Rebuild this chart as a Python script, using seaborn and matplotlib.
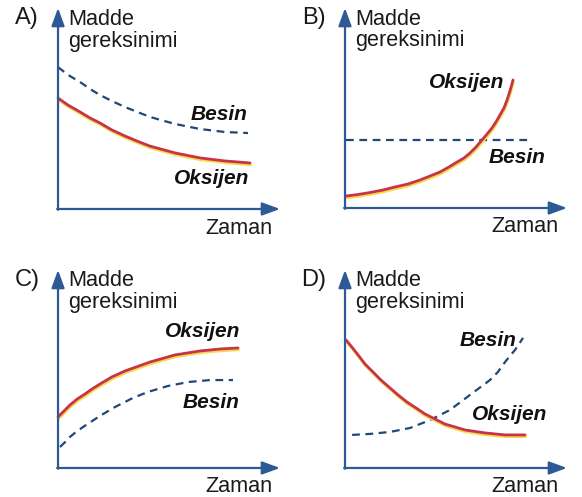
import matplotlib
matplotlib.use("Agg")
import matplotlib.pyplot as plt
import matplotlib.patheffects as pe
import seaborn as sns

sns.set_theme(style="white")
plt.rcParams['font.family'] = ['Liberation Sans', 'DejaVu Sans']

# curve values (time 0-100, demand 0-100 along each arrow)
a_oks_x = [0, 4.5, 9.9, 14.4, 18.9, 24.3, 30.2, 35.6, 41.4, 52.7, 64.0, 75.2, 86.5]
a_oks_y = [55.2, 51.7, 48.3, 45.3, 42.8, 39.3, 36.3, 33.8, 31.3, 27.9, 25.4, 23.9, 22.9]
a_bes_x = [0, 4.5, 9.9, 14.4, 18.9, 24.3, 30.2, 41.4, 52.7, 64.0, 75.2, 85.6]
a_bes_y = [70.6, 66.7, 63.2, 59.7, 56.7, 53.7, 50.7, 45.8, 42.3, 39.8, 38.3, 37.8]

b_oks_x = [0.5, 5.9, 11.3, 17.1, 22.5, 28.4, 33.8, 38.3, 42.8, 46.8, 50.5, 53.6, 56.3,
           59.0, 61.7, 64.0, 66.2, 68.0, 69.8, 71.6, 73.0, 74.3, 75.7]
b_oks_y = [6, 6.75, 7.75, 9, 10.5, 12, 14, 16, 18, 20.5, 23, 25, 27.5,
           30.5, 34, 37, 40, 43, 46.5, 50, 54, 58.5, 64]
b_bes_x = [0.5, 82.4]
b_bes_y = [34, 34]

c_oks_x = [0, 2.7, 5.4, 8.6, 12.2, 15.3, 18.9, 24.3, 30.2, 41.4, 52.7, 64.0, 73.0, 81.1]
c_oks_y = [25.8, 28.8, 31.8, 34.8, 37.4, 39.9, 42.4, 46.0, 49.0, 53.5, 57.1, 59.1, 60.1, 60.6]
c_bes_x = [0.9, 3.2, 5.4, 8.1, 11.3, 18.9, 25.7, 33.8, 40.5, 49.5, 58.6, 68.5, 78.8]
c_bes_y = [10.6, 13.1, 15.7, 18.2, 20.7, 26.3, 30.8, 35.4, 38.4, 41.4, 43.4, 44.4, 44.4]

d_oks_x = [0.5, 3.2, 5.9, 9.0, 12.6, 16.2, 20.3, 23.9, 27.9, 32.0, 36.0, 45.0, 54.1,
           63.1, 72.1, 81.1]
d_oks_y = [64.6, 60.9, 57.1, 52.5, 48.5, 44.4, 40.4, 36.9, 33.3, 30.3, 27.3, 22.2, 19.2,
           17.7, 16.7, 16.7]
d_bes_x = [3.2, 11.3, 20.3, 29.3, 38.3, 47.3, 56.3, 65.3, 68.9, 72.1, 74.3, 76.6, 78.4, 80.2]
d_bes_y = [16.7, 17.2, 18.2, 20.2, 24.2, 29.3, 36.9, 44.4, 48.5, 53.5, 56.6, 59.6, 62.6, 65.7]

panel_names = ['A)', 'B)', 'C)', 'D)']
# label spots (x, y) for Oksijen and Besin in each panel
oks_label = [(69.4, 15.4), (55, 62.5), (65.3, 68.7), (74.3, 26.8)]
bes_label = [(72.5, 46.8), (77.5, 25), (68.9, 33.3), (64.4, 64.6)]

axis_col = '#2d5a96'
red = '#c8324a'
yellow = '#f2dc4a'
dash_col = '#1f4777'

fig = plt.figure(figsize=(5.82, 4.97), dpi=100)
boxes = [[0.0997, 0.5795, 0.3814, 0.4044],
         [0.5928, 0.5815, 0.3814, 0.4024],
         [0.0997, 0.0584, 0.3814, 0.3984],
         [0.5928, 0.0584, 0.3814, 0.3984]]

data = [(a_oks_x, a_oks_y, a_bes_x, a_bes_y),
        (b_oks_x, b_oks_y, b_bes_x, b_bes_y),
        (c_oks_x, c_oks_y, c_bes_x, c_bes_y),
        (d_oks_x, d_oks_y, d_bes_x, d_bes_y)]

for i in range(4):
    ax = fig.add_axes(boxes[i])
    ox, oy, bx, by = data[i]

    sns.lineplot(x=bx, y=by, ax=ax, color=dash_col, lw=1.6, sort=False,
                 linestyle=(0, (3.5, 2.5)), clip_on=False, dash_joinstyle='round')
    sns.lineplot(x=ox, y=oy, ax=ax, color=red, lw=2.0, sort=False, clip_on=False,
                 solid_joinstyle='round', solid_capstyle='round',
                 path_effects=[pe.SimpleLineShadow(offset=(0.4, -1.3), shadow_color=yellow,
                                                   alpha=1.0, rho=1.0),
                               pe.Normal()])

    ax.set_xlim(0, 100)
    ax.set_ylim(0, 100)
    ax.set_xticks([])
    ax.set_yticks([])
    for s in ax.spines.values():
        s.set_visible(False)
    ax.patch.set_alpha(0)

    # axes as arrows
    arrow = dict(arrowstyle='-|>,head_length=0.6,head_width=0.22', color=axis_col,
                 lw=1.6, mutation_scale=18, shrinkA=0, shrinkB=0)
    ax.annotate('', xy=(0, 1), xytext=(0, -0.004), xycoords='axes fraction', arrowprops=arrow)
    ax.annotate('', xy=(1, 0), xytext=(-0.004, 0), xycoords='axes fraction', arrowprops=arrow)

    ax.text(0.045, 0.89, 'Madde\ngereksinimi', transform=ax.transAxes, ha='left',
            va='center', fontsize=15.6, color='#1a1a1a', linespacing=1.05)
    ax.text(-0.14, 0.95, panel_names[i], transform=ax.transAxes, ha='center',
            va='center', fontsize=17, color='#1a1a1a')
    ax.text(0.964, -0.095, 'Zaman', transform=ax.transAxes, ha='right',
            va='center', fontsize=15.6, color='#1a1a1a')

    ax.text(oks_label[i][0], oks_label[i][1], 'Oksijen', ha='center', va='center',
            fontsize=15, fontweight='bold', fontstyle='italic', color='#111111')
    ax.text(bes_label[i][0], bes_label[i][1], 'Besin', ha='center', va='center',
            fontsize=15, fontweight='bold', fontstyle='italic', color='#111111')

fig.savefig('out.png', dpi=100)
